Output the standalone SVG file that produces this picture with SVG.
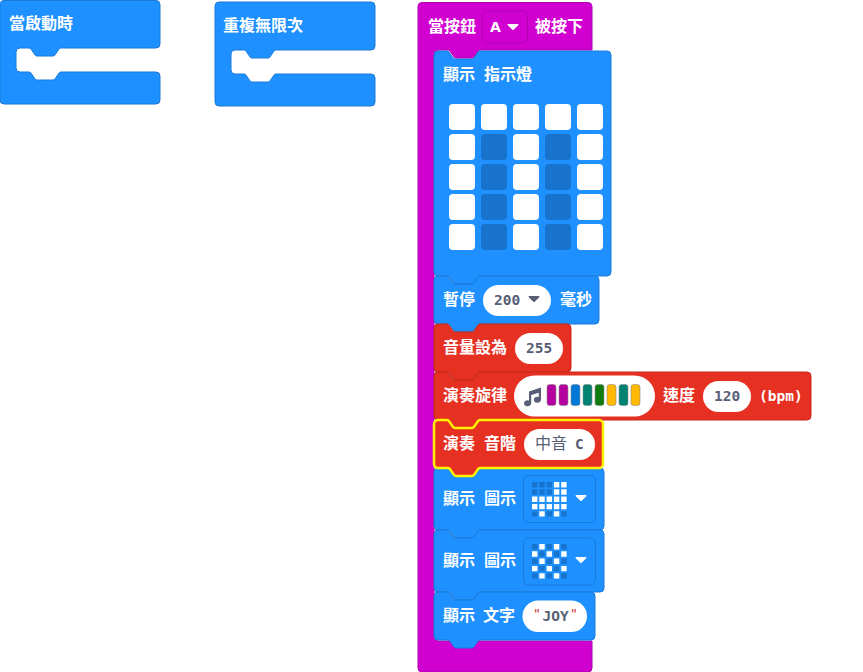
<svg xmlns="http://www.w3.org/2000/svg" width="863" height="672" viewBox="0 0 863 672">
<style>
.b{fill:#1e90ff;stroke:#1a7ad9;stroke-width:1}
.r{fill:#e63022;stroke:#c32a1d;stroke-width:1}
.m{fill:#d000d0;stroke:#b000b0;stroke-width:1}
text{font-family:"Noto Sans CJK TC","Liberation Sans",sans-serif;font-size:16px;font-weight:700;fill:#fff}
.v{font-family:"DejaVu Sans Mono","Liberation Mono",monospace;font-weight:700;font-size:14.500px;fill:#575e75}
.q{font-family:"DejaVu Sans Mono","Liberation Mono",monospace;font-weight:400;font-size:13px;fill:#c9302c}
.f{fill:#fff}
.on{fill:#fff}
.off{fill:#1873cc}
.dd{fill:none;stroke:#1a7ad9;stroke-width:1}
.sw{stroke:#8c8c8c;stroke-width:.6}
</style>
<defs>
<path id="arrowW" d="M-4.800 -3h9.600a.7 .7 0 0 1 .5 1.200l-4.400 4.400a1.200 1.200 0 0 1-1.800 0l-4.400-4.400a.7 .7 0 0 1 .5-1.200z" fill="#fff"/>
<path id="arrowG" d="M-4.800 -3h9.600a.7 .7 0 0 1 .5 1.200l-4.400 4.400a1.200 1.200 0 0 1-1.800 0l-4.400-4.400a.7 .7 0 0 1 .5-1.200z" fill="#575e75"/>
</defs>

<g id="connectors"></g>

<g id="on-start">
<path class="b" d="M4 0.500H156a4 4 0 0 1 4 4V44a4 4 0 0 1-4 4H61q-1 0-1.800 .8l-4.400 6.400q-.8 .8-1.800 .8H37q-1 0-1.800-.8l-4.400-6.400q-.8-.8-1.800-.8H20a4 4 0 0 0-4 4V68a4 4 0 0 0 4 4h9q1 0 1.800 .8l4.400 6.400q.8 .8 1.800 .8H53q1 0 1.800-.8l4.400-6.400q.8-.8 1.800-.8H156a4 4 0 0 1 4 4V100a4 4 0 0 1-4 4H4a4 4 0 0 1-4-4V4.500a4 4 0 0 1 4-4z"/>
<text x="9" y="29">當啟動時</text>
</g>

<g id="forever">
<path class="b" d="M219 2H371a4 4 0 0 1 4 4V46a4 4 0 0 1-4 4H276q-1 0-1.800 .8l-4.400 6.400q-.8 .8-1.800 .8H252q-1 0-1.800-.8l-4.400-6.400q-.8-.8-1.800-.8H235a4 4 0 0 0-4 4V70a4 4 0 0 0 4 4h9q1 0 1.800 .8l4.400 6.400q.8 .8 1.800 .8H268q1 0 1.800-.8l4.400-6.400q.8-.8 1.800-.8H371a4 4 0 0 1 4 4V102a4 4 0 0 1-4 4H219a4 4 0 0 1-4-4V6a4 4 0 0 1 4-4z"/>
<text x="223" y="31">重複無限次</text>
</g>

<g id="on-button">
<path class="m" d="M422 2.500H588a4 4 0 0 1 4 4V50H480q-1 0-1.800 .8l-4.400 6.400q-.8 .8-1.800 .8H456q-1 0-1.800-.8l-4.400-6.400q-.8-.8-1.800-.8H438a4 4 0 0 0-4 4V637a4 4 0 0 0 4 4H592V668a4 4 0 0 1-4 4H422a4 4 0 0 1-4-4V6.500a4 4 0 0 1 4-4z"/>
<text x="428" y="32">當按鈕</text>
<rect x="482.500" y="11" width="45" height="32" rx="5" fill="#d000d0" stroke="#b000b0"/>
<text x="490" y="32" style="font-family:'DejaVu Sans','Liberation Sans',sans-serif;font-weight:700;font-size:14px">A</text>
<use href="#arrowW" x="513" y="27"/>
<text x="535" y="32">被按下</text>
</g>

<g id="show-leds">
<path class="b" d="M438 51H447q1 0 1.800 .8l4.400 6.400q.8 .8 1.800 .8H472q1 0 1.800-.8l4.400-6.400q.8-.8 1.800-.8H607a4 4 0 0 1 4 4V272a4 4 0 0 1-4 4H480q-1 0-1.800 .8l-4.400 6.400q-.8 .8-1.800 .8H456q-1 0-1.800-.8l-4.400-6.400q-.8-.8-1.800-.8H438a4 4 0 0 1-4-4V55a4 4 0 0 1 4-4z"/>
<text x="443" y="80">顯示</text><text x="484" y="80">指示燈</text>
<g class="on">
<rect x="449" y="104" width="26" height="26" rx="4"/><rect x="481" y="104" width="26" height="26" rx="4"/><rect x="513" y="104" width="26" height="26" rx="4"/><rect x="545" y="104" width="26" height="26" rx="4"/><rect x="577" y="104" width="26" height="26" rx="4"/>
<rect x="449" y="134" width="26" height="26" rx="4"/><rect x="513" y="134" width="26" height="26" rx="4"/><rect x="577" y="134" width="26" height="26" rx="4"/>
<rect x="449" y="164" width="26" height="26" rx="4"/><rect x="513" y="164" width="26" height="26" rx="4"/><rect x="577" y="164" width="26" height="26" rx="4"/>
<rect x="449" y="194" width="26" height="26" rx="4"/><rect x="513" y="194" width="26" height="26" rx="4"/><rect x="577" y="194" width="26" height="26" rx="4"/>
<rect x="449" y="224" width="26" height="26" rx="4"/><rect x="513" y="224" width="26" height="26" rx="4"/><rect x="577" y="224" width="26" height="26" rx="4"/>
</g>
<g class="off">
<rect x="481" y="134" width="26" height="26" rx="4"/><rect x="545" y="134" width="26" height="26" rx="4"/>
<rect x="481" y="164" width="26" height="26" rx="4"/><rect x="545" y="164" width="26" height="26" rx="4"/>
<rect x="481" y="194" width="26" height="26" rx="4"/><rect x="545" y="194" width="26" height="26" rx="4"/>
<rect x="481" y="224" width="26" height="26" rx="4"/><rect x="545" y="224" width="26" height="26" rx="4"/>
</g>
</g>

<g id="pause">
<path class="b" d="M438 276H447q1 0 1.800 .8l4.400 6.400q.8 .8 1.800 .8H472q1 0 1.800-.8l4.400-6.400q.8-.8 1.800-.8H595a4 4 0 0 1 4 4V320a4 4 0 0 1-4 4H480q-1 0-1.800 .8l-4.400 6.400q-.8 .8-1.800 .8H456q-1 0-1.800-.8l-4.400-6.400q-.8-.8-1.800-.8H438a4 4 0 0 1-4-4V280a4 4 0 0 1 4-4z"/>
<text x="443" y="305">暫停</text>
<rect x="483" y="285" width="68" height="31" rx="15.500" class="f"/>
<text class="v" x="494" y="305">200</text>
<use href="#arrowG" x="534" y="299"/>
<text x="560" y="305">毫秒</text>
</g>

<g id="volume">
<path class="r" d="M438 324H447q1 0 1.800 .8l4.400 6.400q.8 .8 1.800 .8H472q1 0 1.800-.8l4.400-6.400q.8-.8 1.800-.8H567a4 4 0 0 1 4 4V368a4 4 0 0 1-4 4H480q-1 0-1.800 .8l-4.400 6.400q-.8 .8-1.800 .8H456q-1 0-1.800-.8l-4.400-6.400q-.8-.8-1.800-.8H438a4 4 0 0 1-4-4V328a4 4 0 0 1 4-4z"/>
<text x="443" y="353">音量設為</text>
<rect x="515" y="333" width="48" height="31" rx="15.500" class="f"/>
<text class="v" x="526" y="353">255</text>
</g>

<g id="melody">
<path class="r" d="M438 372H447q1 0 1.800 .8l4.400 6.400q.8 .8 1.800 .8H472q1 0 1.800-.8l4.400-6.400q.8-.8 1.800-.8H807a4 4 0 0 1 4 4V416a4 4 0 0 1-4 4H480q-1 0-1.800 .8l-4.400 6.400q-.8 .8-1.800 .8H456q-1 0-1.800-.8l-4.400-6.400q-.8-.8-1.800-.8H438a4 4 0 0 1-4-4V376a4 4 0 0 1 4-4z"/>
<text x="443" y="401">演奏旋律</text>
<rect x="514" y="375.500" width="141" height="41" rx="20.500" class="f"/>
<path fill="#575e75" d="M529 391.500L541 387.500V399.800a3.600 3 0 1 1-2.200-2.800V392.800L531.200 395V403.300a3.600 3 0 1 1-2.200-2.800z"/>
<g class="sw">
<rect x="547" y="384.500" width="9" height="21" rx="2.500" fill="#b4009e"/>
<rect x="559" y="384.500" width="9" height="21" rx="2.500" fill="#b4009e"/>
<rect x="571" y="384.500" width="9" height="21" rx="2.500" fill="#0078d7"/>
<rect x="583" y="384.500" width="9" height="21" rx="2.500" fill="#008272"/>
<rect x="595" y="384.500" width="9" height="21" rx="2.500" fill="#107c10"/>
<rect x="607" y="384.500" width="9" height="21" rx="2.500" fill="#ffb900"/>
<rect x="619" y="384.500" width="9" height="21" rx="2.500" fill="#008272"/>
<rect x="631" y="384.500" width="9" height="21" rx="2.500" fill="#ffb900"/>
</g>
<text x="663" y="401">速度</text>
<rect x="703" y="381" width="48" height="31" rx="15.500" class="f"/>
<text class="v" x="714" y="401">120</text>
<text x="759" y="401" style="font-family:'DejaVu Sans Mono',monospace;font-weight:700;font-size:14.500px">(bpm)</text>
</g>

<g id="show-icon-1">
<path class="b" d="M438 468H447q1 0 1.800 .8l4.400 6.400q.8 .8 1.800 .8H472q1 0 1.800-.8l4.400-6.400q.8-.8 1.800-.8H600a4 4 0 0 1 4 4V526a4 4 0 0 1-4 4H480q-1 0-1.800 .8l-4.400 6.400q-.8 .8-1.800 .8H456q-1 0-1.800-.8l-4.400-6.400q-.8-.8-1.800-.8H438a4 4 0 0 1-4-4V472a4 4 0 0 1 4-4z"/>
<text x="443" y="504">顯示</text><text x="484" y="504">圖示</text>
<rect x="523.500" y="475.500" width="72" height="47" rx="5" class="dd"/>
<g transform="translate(532,482)">
<path class="off" d="M0 0h5.400v5.400h-5.400zM7.300 0h5.400v5.400h-5.400zM14.600 0h5.400v5.400h-5.400zM0 7.300h5.400v5.400h-5.400zM7.300 7.300h5.400v5.400h-5.400zM14.600 7.300h5.400v5.400h-5.400zM0 29.200h5.400v5.400h-5.400zM14.600 29.200h5.400v5.400h-5.400zM29.200 29.200h5.400v5.400h-5.400z"/>
<path class="on" d="M21.900 0h5.400v5.400h-5.400zM29.200 0h5.400v5.400h-5.400zM21.900 7.300h5.400v5.400h-5.400zM29.200 7.300h5.400v5.400h-5.400zM0 14.600h5.400v5.400h-5.400zM7.300 14.600h5.400v5.400h-5.400zM14.600 14.600h5.400v5.400h-5.400zM21.900 14.600h5.400v5.400h-5.400zM29.200 14.600h5.400v5.400h-5.400zM0 21.900h5.400v5.400h-5.400zM7.300 21.900h5.400v5.400h-5.400zM14.600 21.900h5.400v5.400h-5.400zM21.900 21.900h5.400v5.400h-5.400zM29.200 21.900h5.400v5.400h-5.400zM7.300 29.200h5.400v5.400h-5.400zM21.900 29.200h5.400v5.400h-5.400z"/>
</g>
<use href="#arrowW" x="581" y="498"/>
</g>

<g id="show-icon-2">
<path class="b" d="M438 530H447q1 0 1.800 .8l4.400 6.400q.8 .8 1.800 .8H472q1 0 1.800-.8l4.400-6.400q.8-.8 1.800-.8H600a4 4 0 0 1 4 4V588a4 4 0 0 1-4 4H480q-1 0-1.800 .8l-4.400 6.400q-.8 .8-1.800 .8H456q-1 0-1.800-.8l-4.400-6.400q-.8-.8-1.800-.8H438a4 4 0 0 1-4-4V534a4 4 0 0 1 4-4z"/>
<text x="443" y="566">顯示</text><text x="484" y="566">圖示</text>
<rect x="523.500" y="538" width="72" height="47" rx="5" class="dd"/>
<g transform="translate(532,544)">
<path class="off" d="M0 0h5.400v5.400h-5.400zM14.600 0h5.400v5.400h-5.400zM29.200 0h5.400v5.400h-5.400zM7.300 7.300h5.400v5.400h-5.400zM21.900 7.300h5.400v5.400h-5.400zM0 14.600h5.400v5.400h-5.400zM14.600 14.600h5.400v5.400h-5.400zM29.200 14.600h5.400v5.400h-5.400zM7.300 21.900h5.400v5.400h-5.400zM21.900 21.900h5.400v5.400h-5.400zM0 29.200h5.400v5.400h-5.400zM14.600 29.200h5.400v5.400h-5.400zM29.200 29.200h5.400v5.400h-5.400z"/>
<path class="on" d="M7.300 0h5.400v5.400h-5.400zM21.900 0h5.400v5.400h-5.400zM0 7.300h5.400v5.400h-5.400zM14.600 7.300h5.400v5.400h-5.400zM29.200 7.300h5.400v5.400h-5.400zM7.300 14.600h5.400v5.400h-5.400zM21.900 14.600h5.400v5.400h-5.400zM0 21.900h5.400v5.400h-5.400zM14.600 21.900h5.400v5.400h-5.400zM29.200 21.900h5.400v5.400h-5.400zM7.300 29.200h5.400v5.400h-5.400zM21.900 29.200h5.400v5.400h-5.400z"/>
</g>
<use href="#arrowW" x="581" y="560"/>
</g>

<g id="show-string">
<path class="b" d="M438 592H447q1 0 1.800 .8l4.400 6.400q.8 .8 1.800 .8H472q1 0 1.800-.8l4.400-6.400q.8-.8 1.800-.8H591a4 4 0 0 1 4 4V636a4 4 0 0 1-4 4H480q-1 0-1.800 .8l-4.400 6.400q-.8 .8-1.800 .8H456q-1 0-1.800-.8l-4.400-6.400q-.8-.8-1.800-.8H438a4 4 0 0 1-4-4V596a4 4 0 0 1 4-4z"/>
<text x="443" y="621">顯示</text><text x="483" y="621">文字</text>
<rect x="522.500" y="600.500" width="64.500" height="31.500" rx="15.700" class="f"/>
<text class="q" x="533" y="618">"</text>
<text class="v" x="542.500" y="621">JOY</text>
<text class="q" x="570" y="618">"</text>
</g>

<g id="play-tone">
<path fill="#e63022" stroke="#fff200" stroke-width="2.500" d="M438 420H447q1 0 1.800 .8l4.400 6.400q.8 .8 1.800 .8H472q1 0 1.800-.8l4.400-6.400q.8-.8 1.800-.8H599a4 4 0 0 1 4 4V464a4 4 0 0 1-4 4H480q-1 0-1.800 .8l-4.400 6.400q-.8 .8-1.800 .8H456q-1 0-1.800-.8l-4.400-6.400q-.8-.8-1.800-.8H438a4 4 0 0 1-4-4V424a4 4 0 0 1 4-4z"/>
<text x="443" y="449">演奏</text><text x="484" y="449">音階</text>
<rect x="524" y="429" width="71" height="31" rx="15.500" class="f"/>
<text x="535" y="449" style="fill:#575e75;font-weight:400">中音</text>
<text class="v" x="575" y="449">C</text>
</g>
</svg>
